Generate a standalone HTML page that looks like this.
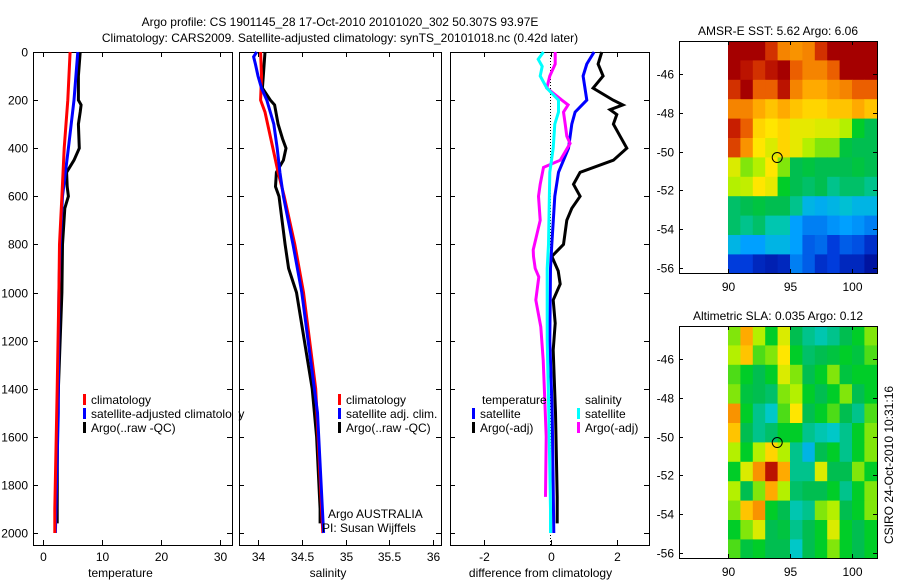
<!DOCTYPE html>
<html><head><meta charset="utf-8">
<style>
body{margin:0;background:#fff;}
svg{display:block;font-family:"Liberation Sans",sans-serif;}
text{font-size:12px;fill:#000;}
</style></head>
<body>
<svg id="fig" width="900" height="580" viewBox="0 0 900 580">
<text x="340" y="26" text-anchor="middle" font-size="13">Argo profile: CS 1901145_28 17-Oct-2010 20101020_302 50.307S 93.97E</text>
<text x="340" y="42" text-anchor="middle" font-size="13">Climatology: CARS2009. Satellite-adjusted climatology: synTS_20101018.nc (0.42d later)</text>
<g id="g"></g>
</svg>
<script>
// ---- profile data ----
const tClimDepth = [0,200,400,600,800,1000,1400,1900,2000];
const tClim      = [4.6,4.2,3.6,3.2,2.8,2.7,2.4,2.0,2.0];
const tSatDepth  = [0,200,400,600,800,1000,1500,2000];
const tSat       = [5.9,5.25,4.3,3.3,2.9,2.7,2.6,2.1];
const tArgoDepth = [0,100,200,220,250,300,400,450,500,560,600,650,800,1000,1500,1900,1960];
const tArgo      = [6.3,6.0,6.0,6.45,6.3,6.0,6.15,5.25,4.0,4.1,4.3,3.7,3.3,3.2,2.45,2.4,2.4];

const sClimDepth = [0,100,200,250,400,500,600,800,1000,1400,2000];
const sClim      = [34.03,34.04,34.03,34.08,34.17,34.23,34.30,34.42,34.52,34.66,34.74];
const sSatDepth  = [0,20,50,100,150,200,300,400,500,600,800,1000,1500,2000];
const sSat       = [33.985,33.95,33.97,34.0,34.04,34.10,34.18,34.22,34.25,34.29,34.40,34.50,34.68,34.75];
const sArgoDepth = [0,100,150,200,220,300,360,400,450,500,560,600,800,900,1000,1400,1600,1900,1960];
const sArgo      = [34.08,34.06,34.05,34.14,34.19,34.23,34.28,34.32,34.29,34.21,34.20,34.24,34.31,34.35,34.44,34.62,34.67,34.71,34.71];

const dTSatDepth  = [0,50,100,200,250,300,400,500,600,800,900,1200,1500,2000];
const dTSat       = [1.31,1.09,0.98,1.09,0.74,0.64,0.54,0.24,0.13,0.04,0.0,-0.02,0.05,0.1];
const dTArgoDepth = [0,50,100,150,200,220,240,260,300,350,400,450,500,550,600,650,700,800,850,910,965,1031,1128,1240,1500,1850,1960];
const dTArgo      = [1.54,1.43,1.58,1.28,1.88,2.17,1.79,1.99,1.89,2.09,2.29,1.89,0.89,0.69,0.89,0.64,0.49,0.39,0.04,0.23,0.29,0.08,0.14,0.08,0.15,0.2,0.2];
const dSSatDepth  = [0,30,60,100,150,200,250,300,400,500,800,900,1200,1500,1900,2000];
const dSSat       = [-0.21,-0.37,-0.25,-0.31,-0.11,0.24,0.24,0.13,0.08,-0.02,-0.06,-0.1,-0.1,-0.05,0.0,0.0];
const dSArgoDepth = [0,50,100,150,200,220,250,300,350,380,450,480,550,600,700,823,850,900,935,1031,1143,1281,1447,1600,1850];
const dSArgo      = [0.14,0.14,-0.02,-0.11,0.34,0.53,0.39,0.44,0.49,0.59,0.29,-0.21,-0.31,-0.36,-0.31,-0.52,-0.51,-0.46,-0.35,-0.44,-0.29,-0.22,-0.17,-0.13,-0.15];

const depthTicks = [0,200,400,600,800,1000,1200,1400,1600,1800,2000];
const tTicks = [0,10,20,30];
const sTicks = [34,34.5,35,35.5,36];
const sTickLabels = ["34","34.5","35","35.5","36"];
const dTicks = [-2,0,2];

// ---- map data (colour index 0..1), rows north->south, 1 deg lon cols 90..102 ----
const sstGrid = [
[1,1,1,.9,.8,.78,.8,.9,1,1,1,1],
[1,.95,.9,.95,1,.85,.8,.8,.85,1,1,1],
[.9,1,.85,.85,.95,.8,.75,.75,.78,.8,.85,.85],
[.8,.8,.75,.72,.75,.72,.7,.7,.72,.72,.75,.72],
[.92,.85,.7,.68,.7,.66,.66,.65,.65,.62,.55,.5],
[.88,.78,.68,.65,.7,.66,.62,.6,.6,.52,.5,.5],
[.65,.6,.62,.68,.6,.5,.52,.5,.5,.5,.52,.5],
[.62,.63,.68,.66,.55,.5,.48,.5,.45,.48,.48,.45],
[.48,.5,.52,.5,.5,.45,.35,.33,.35,.38,.35,.35],
[.48,.45,.48,.42,.42,.3,.25,.25,.28,.3,.28,.25],
[.35,.3,.3,.35,.35,.3,.2,.22,.15,.2,.18,.12],
[.15,.15,.1,.08,.1,.25,.2,.12,.15,.1,.1,.05]];
const slaGrid = [
[.6,.75,.62,.55,.65,.5,.45,.42,.45,.5,.55,.6],
[.62,.72,.58,.6,.68,.55,.48,.5,.52,.55,.52,.58],
[.58,.55,.5,.55,.65,.6,.5,.55,.6,.52,.55,.55],
[.6,.52,.5,.48,.6,.62,.55,.5,.55,.6,.5,.55],
[.78,.55,.45,.4,.58,.68,.5,.55,.58,.5,.45,.58],
[.72,.5,.45,.48,.55,.55,.45,.42,.4,.45,.55,.6],
[.62,.55,.62,.7,.62,.45,.35,.5,.55,.45,.55,.6],
[.55,.65,.78,.95,.75,.45,.45,.65,.5,.5,.6,.55],
[.62,.5,.6,.75,.62,.48,.5,.5,.55,.45,.55,.6],
[.6,.72,.78,.55,.5,.42,.45,.6,.62,.5,.55,.6],
[.55,.6,.65,.5,.52,.45,.5,.55,.65,.55,.5,.55],
[.58,.52,.55,.5,.5,.4,.5,.55,.6,.55,.5,.55]];
const gridLon0 = 90, gridLat0 = -44.3;
const argoLon = 93.97, argoLat = -50.307;
const latTicks = [-46,-48,-50,-52,-54,-56];
const lonTicks = [90,95,100];

const NS="http://www.w3.org/2000/svg";
const G=document.getElementById('g');
function mk(tag,attrs,parent){const e=document.createElementNS(NS,tag);for(const k in attrs)e.setAttribute(k,attrs[k]);(parent||G).appendChild(e);return e;}

// profile axes
const pTop=52,pBot=545;
const yD=d=>52+d*0.2405;
const panels=[
 {l:33,r:232,x:v=>43+5.9*v,ticks:tTicks,labels:tTicks.map(String),xlabel:"temperature",name:"temperature"},
 {l:239,r:441,x:v=>258+87.5*(v-34),ticks:sTicks,labels:sTickLabels,xlabel:"salinity",name:"salinity"},
 {l:450,r:649,x:v=>550.5+33.3*v,ticks:dTicks,labels:["-2","0","2"],xlabel:"difference from climatology",name:"difference"}
];
panels.forEach((p,i)=>{
  const g=mk('g',{});
  
  
  const fr=mk('rect',{x:p.l+.5,y:pTop+.5,width:p.r-p.l,height:pBot-pTop,fill:'none',stroke:'#000','stroke-width':1},g);
  
  
  p.ticks.forEach((t,k)=>{
    const x=Math.round(p.x(t))+.5;
    mk('line',{x1:x,x2:x,y1:pTop,y2:pTop+5,stroke:'#000'},g);
    mk('line',{x1:x,x2:x,y1:pBot,y2:pBot-5,stroke:'#000'},g);
    const tl=mk('text',{x:x,y:561,'text-anchor':'middle'},g);tl.textContent=p.labels[k];
    
    
  });
  depthTicks.forEach(d=>{
    const y=Math.round(yD(d))+.5;
    mk('line',{x1:p.l,x2:p.l+5,y1:y,y2:y,stroke:'#000'},g);
    mk('line',{x1:p.r,x2:p.r-5,y1:y,y2:y,stroke:'#000'},g);
    if(i===0){const t=mk('text',{x:28,y:y+4,'text-anchor':'end'},g);t.textContent=d;
      
      }
  });
  const xl=mk('text',{x:(p.l+p.r)/2+(i==2?-9:-12),y:577,'text-anchor':'middle'},g);xl.textContent=p.xlabel;
  
  
});
const zl=mk('line',{x1:550.5,x2:550.5,y1:pTop,y2:pBot,stroke:'#000','stroke-dasharray':'1,2'});



function series(p,depths,vals,color,name){
  const pts=depths.map((d,k)=>p.x(vals[k]).toFixed(1)+','+yD(d).toFixed(1)).join(' ');
  const e=mk('polyline',{points:pts,fill:'none',stroke:color,'stroke-width':3,'stroke-linejoin':'miter'});
  
  
}
series(panels[0],tArgoDepth,tArgo,'#000','temp-argo-line');
series(panels[0],tSatDepth,tSat,'#00f','temp-satellite-line');
series(panels[0],tClimDepth,tClim,'#f00','temp-climatology-line');
series(panels[1],sArgoDepth,sArgo,'#000','salinity-argo-line');
series(panels[1],sClimDepth,sClim,'#f00','salinity-climatology-line');
series(panels[1],sSatDepth,sSat,'#00f','salinity-satellite-line');
series(panels[2],dTArgoDepth,dTArgo,'#000','diff-temp-argo-line');
series(panels[2],dTSatDepth,dTSat,'#00f','diff-temp-satellite-line');
series(panels[2],dSArgoDepth,dSArgo,'#f0f','diff-sal-argo-line');
series(panels[2],dSSatDepth,dSSat,'#0ff','diff-sal-satellite-line');

function legend(x,y,color,label){
  const g=mk('g',{});
  
  
  if(color) mk('rect',{x:x,y:y-10,width:3,height:11,fill:color},g);
  const t=mk('text',{x:x+8,y:y},g);t.textContent=label;
}
legend(83,404,'#f00','climatology');
legend(83,418,'#00f','satellite-adjusted climatology');
legend(83,432,'#000','Argo(..raw -QC)');
legend(338,404,'#f00','climatology');
legend(338,418,'#00f','satellite adj. clim.');
legend(338,432,'#000','Argo(..raw -QC)');
legend(474,404,null,'temperature');
legend(472,418,'#00f','satellite');
legend(472,432,'#000','Argo(-adj)');
legend(577,404,null,'salinity');
legend(577,418,'#0ff','satellite');
legend(577,432,'#f0f','Argo(-adj)');
const cover=mk('rect',{x:233,y:405,width:5,height:16,fill:'#fff'});


const a1=mk('text',{x:328,y:518});a1.textContent='Argo AUSTRALIA';


const a2=mk('text',{x:322,y:532});a2.textContent='PI: Susan Wijffels';



// custom colormap matching the reference
const cmapStops=[[0,0,0,130],[.15,0,60,220],[.3,0,160,255],[.4,0,200,200],[.5,0,190,80],[.55,0,205,40],[.62,180,240,0],[.68,255,230,0],[.75,255,170,0],[.85,235,95,0],[.92,200,30,0],[1,165,0,0]];
function cmap(v){v=Math.max(0,Math.min(1,v));
  for(let i=1;i<cmapStops.length;i++){const a=cmapStops[i-1],b=cmapStops[i];
    if(v<=b[0]){const t=(v-a[0])/(b[0]-a[0]);
      return `rgb(${Math.round(a[1]+t*(b[1]-a[1]))},${Math.round(a[2]+t*(b[2]-a[2]))},${Math.round(a[3]+t*(b[3]-a[3]))})`;}}
  return 'rgb(165,0,0)';}

function map(top,grid,title,name){
  const L=679,R=877,lonX=lon=>728+(lon-90)*12.4;
  const latY=lat=>top+(-44.3-lat)*19.4, B=top+232;
  const g=mk('g',{});
  
  
  grid.forEach((row,ri)=>row.forEach((v,ci)=>{
    const x0=lonX(gridLon0+ci),x1=lonX(gridLon0+ci+1);
    const y0=latY(gridLat0-ri),y1=Math.min(B,latY(gridLat0-ri-1));
    const c=mk('rect',{x:x0.toFixed(1),y:y0.toFixed(1),width:(Math.min(x1,R)-x0+.5).toFixed(1),height:(y1-y0+.5).toFixed(1),fill:cmap(v)},g);
    
    
  }));
  mk('rect',{x:L+.5,y:top+.5,width:R-L,height:B-top,fill:'none',stroke:'#000'},g);
  latTicks.forEach(lat=>{const y=Math.round(latY(lat))+.5;
    mk('line',{x1:L,x2:L+4,y1:y,y2:y,stroke:'#000'},g);mk('line',{x1:R,x2:R-4,y1:y,y2:y,stroke:'#000'},g);
    const t=mk('text',{x:674,y:y+4,'text-anchor':'end'},g);t.textContent=lat;
    
    });
  lonTicks.forEach(lon=>{const x=Math.round(lonX(lon))+.5;
    mk('line',{x1:x,x2:x,y1:top,y2:top+4,stroke:'#000'},g);mk('line',{x1:x,x2:x,y1:B,y2:B-4,stroke:'#000'},g);
    const t=mk('text',{x:x,y:B+18,'text-anchor':'middle'},g);t.textContent=lon;
    
    });
  const c=mk('circle',{cx:lonX(argoLon),cy:latY(argoLat),r:5,fill:'none',stroke:'#000'},g);
  
  
  const t=mk('text',{x:778,y:top-6,'text-anchor':'middle'},g);t.textContent=title;
  
  
}
map(41,sstGrid,'AMSR-E SST: 5.62 Argo: 6.06','sst-map');
map(326,slaGrid,'Altimetric SLA: 0.035 Argo: 0.12','sla-map');
const st=mk('text',{x:0,y:0,transform:'translate(893,465) rotate(-90)','text-anchor':'middle'});
st.textContent='CSIRO 24-Oct-2010 10:31:16';


</script>
</body></html>
